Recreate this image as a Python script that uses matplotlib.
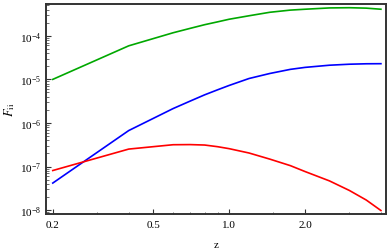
import numpy as np
import matplotlib
matplotlib.use("Agg")
import matplotlib.pyplot as plt
from matplotlib.ticker import FixedLocator, FixedFormatter, LogLocator, NullFormatter

z = [0.2, 0.4, 0.6, 0.7, 0.8, 0.9, 1.0, 1.2, 1.45, 1.75, 2.0, 2.5, 3.0, 3.5, 4.0]
log_green = [-5.0, -4.23, -3.93, -3.83, -3.745, -3.68, -3.62, -3.54, -3.46, -3.41, -3.39, -3.36, -3.355, -3.365, -3.39]
log_blue = [-7.38, -6.175, -5.67, -5.50, -5.355, -5.24, -5.14, -4.98, -4.865, -4.77, -4.725, -4.675, -4.652, -4.642, -4.64]
log_red = [-7.092, -6.60, -6.50, -6.497, -6.507, -6.545, -6.59, -6.69, -6.83, -6.98, -7.115, -7.33, -7.55, -7.77, -8.01]

xticks = [0.2, 0.5, 1.0, 2.0]
xticklabels = ["0.2", "0.5", "1.0", "2.0"]

plt.rcParams['font.family'] = ['Liberation Serif', 'DejaVu Serif']
plt.rcParams['mathtext.fontset'] = 'stix'

fig = plt.figure(figsize=(3.88, 2.53), dpi=100)
ax = fig.add_axes([46/388, 1-215/253, (386-46)/388, (215-4.7)/253])

ax.plot(z, 10**np.array(log_green), color='#00a800', lw=1.2)
ax.plot(z, 10**np.array(log_blue), color='#0000ff', lw=1.2)
ax.plot(z, 10**np.array(log_red), color='#ff0000', lw=1.2)

ax.set_xscale('log')
ax.set_yscale('log')
ax.set_xlim(0.188, 4.19)
ax.set_ylim(10**-8.09, 10**-3.263)

ax.xaxis.set_major_locator(FixedLocator(xticks))
ax.xaxis.set_major_formatter(FixedFormatter(xticklabels))
ax.xaxis.set_minor_locator(FixedLocator([0.3, 0.4, 0.6, 0.7, 0.8, 0.9, 1.5, 3.0, 4.0]))
ax.xaxis.set_minor_formatter(NullFormatter())
ax.yaxis.set_major_locator(LogLocator(base=10, numticks=20))
ax.yaxis.set_minor_locator(LogLocator(base=10, subs=np.arange(2, 10), numticks=20))
ax.yaxis.set_minor_formatter(NullFormatter())

ax.tick_params(which='both', direction='in', top=False, right=False, labelsize=8, width=0.8, color='#333333')
ax.tick_params(which='major', length=3.5)
ax.tick_params(which='minor', length=1.8, width=0.5)
ax.tick_params(axis='x', pad=4)

for s in ax.spines.values():
    s.set_linewidth(1.4)
    s.set_color('#333333')

ax.set_xlabel('z', fontsize=8, labelpad=8)
ax.set_ylabel(r'$F_{\rm ii}$', fontsize=9, labelpad=2)

fig.savefig('out.png', dpi=100)
